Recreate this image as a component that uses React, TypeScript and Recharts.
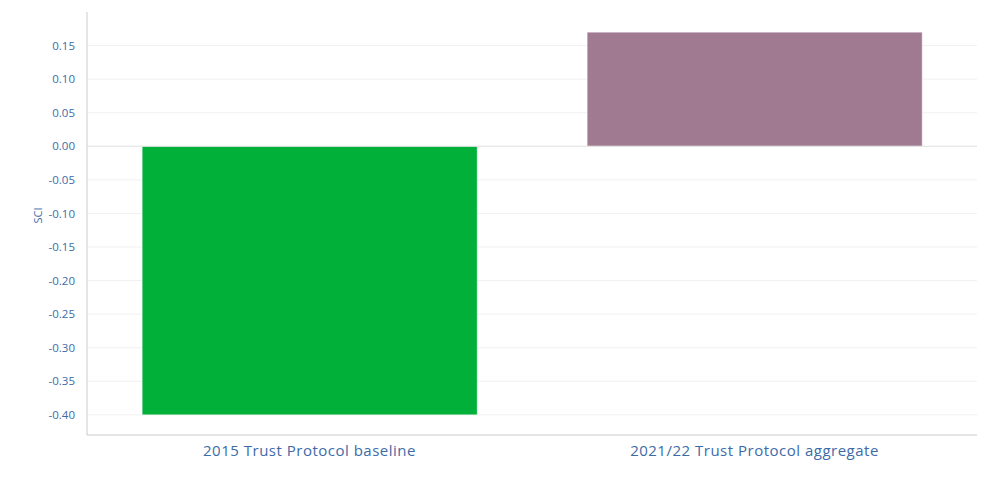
import { BarChart, Bar, XAxis, YAxis, CartesianGrid, ReferenceLine, Cell } from 'recharts';

const categories = ['2015 Trust Protocol baseline', '2021/22 Trust Protocol aggregate'];
const sciValues = [-0.4, 0.17];
const barColors = ['#00b039', '#a07a91'];
const yTicks = [0.15, 0.1, 0.05, 0, -0.05, -0.1, -0.15, -0.2, -0.25, -0.3, -0.35, -0.4];

const data = categories.map((name, i) => ({ name, sci: sciValues[i] }));

const textColor = '#3d6ba8';
const font = '"Open Sans", "Noto Sans", sans-serif';

export default function App() {
  return (
    <div style={{ position: 'fixed', left: 0, top: 0, width: 1006, height: 486, background: '#fff', fontFamily: font }}>
      <BarChart
        width={1006}
        height={486}
        data={data}
        margin={{ top: 12, right: 29, left: 0, bottom: 0 }}
        barCategoryGap="12.4%"
      >
        <CartesianGrid vertical={false} stroke="#f1f1f1" horizontalValues={yTicks} />
        <XAxis
          dataKey="name"
          height={51}
          axisLine={{ stroke: '#cccccc' }}
          tickLine={false}
          tick={{ fontSize: 15, fill: textColor, fontFamily: font, letterSpacing: 0.5 }}
          tickMargin={4}
        />
        <YAxis
          width={87}
          domain={[-0.43, 0.2]}
          ticks={yTicks}
          interval={0}
          tickFormatter={(v: number) => v.toFixed(2)}
          axisLine={{ stroke: '#cccccc' }}
          tickLine={false}
          tickMargin={6}
          tick={{ fontSize: 11.5, fill: textColor, fontFamily: font }}
          label={{ value: 'SCI', angle: -90, position: 'insideLeft', offset: 38, fill: textColor, fontSize: 11, fontFamily: font }}
        />
        <ReferenceLine y={0} stroke="#e4e4e4" />
        <Bar dataKey="sci" isAnimationActive={false}>
          {data.map((_, i) => (
            <Cell key={`cell-${i}`} fill={barColors[i]} stroke="#ffffff" strokeOpacity={0.4} />
          ))}
        </Bar>
      </BarChart>
    </div>
  );
}
